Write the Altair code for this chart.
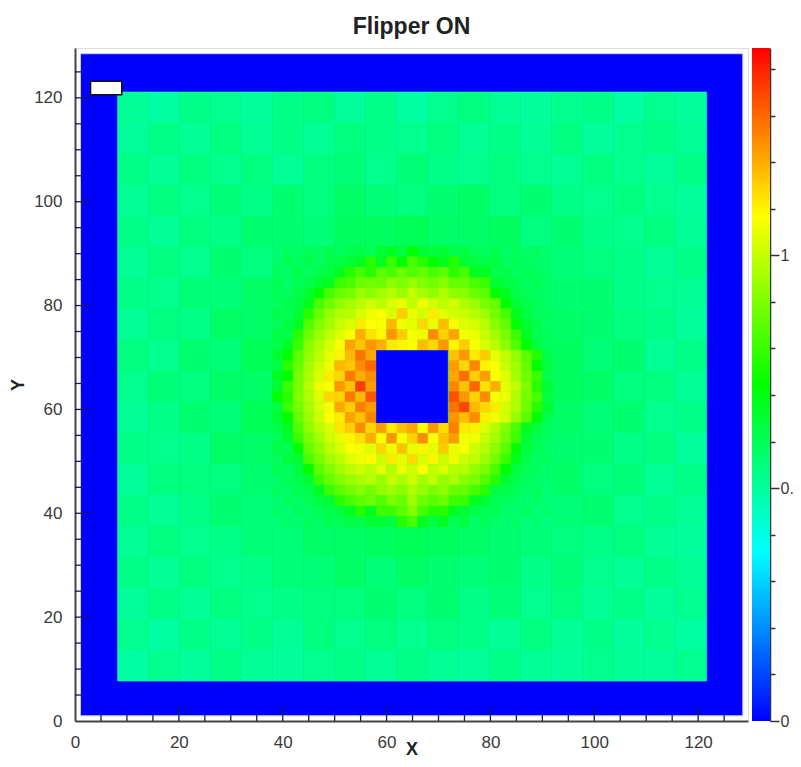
import altair as alt
import pandas as pd

# Colour scale
color_domain = [0, 0.36, 0.72, 1.08, 1.445]
color_range = ["#0000ff", "#00ffff", "#00ff00", "#ffff00", "#ff0000"]

# Coarse background tiles (hundredths), top row first, about 6 units wide
bg_x0, bg_y0, bg_step = 8.2, 7.7, 5.97
bg_rows = [
    [59, 57, 61, 60, 58, 61, 62, 58, 61, 57, 60, 62, 59, 58, 60, 61, 57, 60, 58],
    [58, 61, 59, 62, 59, 61, 59, 62, 61, 60, 62, 59, 61, 59, 62, 58, 60, 61, 59],
    [61, 59, 62, 60, 62, 59, 62, 63, 60, 63, 61, 60, 62, 60, 59, 62, 60, 58, 61],
    [59, 62, 60, 63, 61, 64, 62, 65, 63, 62, 64, 65, 62, 64, 61, 60, 62, 60, 58],
    [61, 59, 62, 61, 64, 64, 63, 66, 66, 67, 65, 65, 66, 62, 64, 61, 60, 62, 59],
    [59, 62, 60, 64, 62, 65, 66, 67, 68, 69, 68, 67, 66, 65, 63, 62, 61, 59, 61],
    [61, 60, 63, 63, 65, 65, 67, 68, 68, 68, 68, 68, 67, 66, 64, 64, 61, 60, 59],
    [59, 62, 61, 65, 65, 67, 68, 68, 68, 68, 68, 68, 68, 67, 65, 64, 62, 61, 58],
    [62, 60, 64, 63, 67, 67, 68, 68, 68, 68, 68, 68, 68, 67, 66, 63, 64, 59, 61],
    [60, 63, 62, 65, 65, 68, 68, 68, 68, 68, 68, 68, 68, 68, 66, 65, 62, 62, 59],
    [59, 61, 64, 63, 67, 67, 68, 68, 68, 68, 68, 68, 68, 67, 65, 63, 64, 60, 61],
    [61, 60, 61, 65, 65, 66, 68, 68, 68, 68, 68, 68, 68, 66, 64, 64, 61, 62, 58],
    [58, 62, 62, 62, 64, 66, 67, 68, 68, 68, 68, 68, 67, 65, 65, 62, 63, 59, 61],
    [61, 59, 61, 64, 63, 65, 66, 67, 68, 69, 68, 67, 66, 65, 63, 64, 60, 61, 59],
    [59, 62, 60, 61, 63, 63, 65, 65, 66, 67, 66, 65, 64, 63, 62, 61, 62, 59, 58],
    [61, 59, 62, 60, 61, 63, 63, 65, 63, 65, 64, 63, 64, 61, 63, 60, 59, 61, 59],
    [58, 61, 59, 62, 60, 61, 62, 62, 64, 62, 64, 61, 63, 60, 62, 59, 61, 58, 60],
    [60, 57, 61, 59, 61, 59, 62, 60, 62, 60, 62, 61, 59, 62, 59, 61, 58, 60, 57],
    [57, 60, 58, 61, 59, 58, 60, 61, 59, 61, 59, 58, 61, 59, 58, 60, 59, 58, 60],
]

# Halo around the beam stop (hundredths), top row first, 2 units wide
halo_x0, halo_y0, halo_step = 38, 37.4, 2
H = [0] * 7
halo_rows = [
    [64, 66, 65, 67, 66, 68, 66, 68, 69, 67, 70, 71, 69, 72, 70, 69, 70, 68, 69, 67, 66, 68, 65, 67, 65, 66, 64],
    [65, 67, 66, 68, 66, 68, 69, 70, 71, 73, 71, 74, 72, 75, 73, 72, 71, 73, 70, 69, 68, 69, 66, 67, 66, 65, 64],
    [66, 65, 68, 66, 68, 69, 71, 73, 75, 73, 77, 75, 79, 76, 78, 75, 77, 73, 75, 71, 71, 68, 68, 66, 67, 66, 65],
    [67, 65, 67, 68, 70, 71, 74, 75, 79, 80, 79, 84, 81, 85, 82, 80, 83, 78, 78, 75, 74, 70, 69, 68, 66, 67, 65],
    [67, 66, 68, 70, 72, 75, 78, 80, 86, 83, 88, 91, 86, 94, 88, 85, 90, 84, 83, 79, 77, 72, 71, 68, 67, 66, 65],
    [66, 68, 69, 71, 75, 79, 84, 88, 92, 96, 92, 99, 103, 94, 104, 97, 93, 97, 90, 86, 81, 78, 72, 70, 68, 67, 65],
    [68, 67, 70, 73, 78, 85, 90, 92, 99, 104, 108, 99, 118, 103, 98, 112, 101, 98, 96, 91, 87, 80, 75, 71, 69, 66, 66],
    [67, 69, 71, 76, 82, 88, 95, 99, 112, 108, 106, 122, 104, 101, 116, 103, 121, 109, 100, 98, 92, 83, 78, 72, 70, 68, 65],
    [69, 68, 73, 79, 86, 93, 100, 108, 124, 114, 109, 128, 118, 106, 104, 130, 117, 126, 106, 104, 95, 88, 81, 74, 71, 67, 66],
    [68, 71, 74, 83, 90, 98, 107, 126, 119, 128, 124, 112, 110, 107, 121, 116, 128, 110, 118, 106, 99, 92, 83, 76, 72, 69, 66],
    [70, 72, 77, 85, 93, 102, 110, 122, 134, 125] + H + [120, 128, 112, 118, 102, 94, 85, 77, 73, 68],
    [69, 73, 78, 87, 96, 104, 122, 119, 130, 136] + H + [127, 116, 131, 110, 107, 95, 87, 78, 72, 69],
    [71, 72, 80, 89, 99, 112, 116, 133, 124, 130] + H + [125, 135, 118, 127, 108, 100, 88, 79, 74, 68],
    [70, 74, 81, 91, 104, 108, 128, 120, 141, 127] + H + [131, 120, 136, 114, 124, 102, 93, 81, 73, 70],
    [72, 73, 82, 90, 100, 116, 117, 133, 122, 138] + H + [139, 128, 117, 130, 106, 103, 90, 80, 75, 69],
    [69, 74, 80, 88, 98, 106, 125, 118, 132, 127] + H + [134, 140, 122, 116, 112, 98, 90, 79, 73, 70],
    [70, 72, 78, 86, 96, 107, 112, 126, 120, 131] + H + [128, 121, 130, 111, 105, 98, 85, 77, 72, 68],
    [68, 71, 76, 84, 92, 99, 113, 118, 130, 116, 127, 112, 120, 125, 108, 128, 115, 132, 112, 111, 99, 91, 82, 75, 71, 69, 66],
    [67, 70, 74, 81, 88, 97, 102, 110, 114, 124, 108, 128, 106, 117, 130, 108, 120, 127, 106, 105, 95, 88, 80, 74, 70, 67, 66],
    [68, 67, 72, 78, 84, 92, 98, 108, 106, 101, 116, 104, 120, 102, 110, 101, 118, 103, 107, 96, 91, 83, 77, 72, 69, 67, 65],
    [66, 69, 70, 75, 81, 87, 92, 100, 104, 109, 97, 112, 101, 115, 99, 110, 96, 104, 96, 93, 86, 80, 74, 71, 68, 66, 66],
    [67, 66, 69, 72, 77, 82, 87, 93, 97, 93, 101, 91, 103, 96, 108, 93, 99, 91, 91, 85, 81, 75, 72, 69, 67, 66, 64],
    [65, 67, 68, 70, 74, 78, 82, 86, 89, 92, 86, 94, 89, 96, 88, 93, 85, 89, 83, 81, 76, 73, 70, 68, 66, 65, 64],
    [66, 65, 67, 68, 71, 74, 77, 80, 83, 80, 85, 87, 83, 90, 85, 81, 84, 79, 78, 75, 73, 69, 68, 67, 65, 66, 63],
    [64, 66, 65, 67, 69, 70, 73, 75, 77, 79, 76, 81, 78, 86, 79, 77, 79, 74, 74, 71, 70, 67, 66, 65, 64, 65, 63],
    [65, 63, 66, 65, 67, 68, 69, 71, 73, 71, 74, 74, 77, 82, 75, 73, 73, 71, 70, 68, 67, 67, 65, 64, 66, 63, 64],
    [63, 65, 64, 66, 65, 67, 67, 69, 68, 70, 70, 69, 73, 75, 71, 69, 71, 67, 69, 65, 67, 65, 64, 65, 63, 64, 62],
]

# Blue detector frame and beam stop: x, x2, y, y2
frame_box = [1.06, 128.6, 1.0, 128.5]
stop_box = [58.0, 71.8, 57.4, 71.4]
legend_box = [3.0, 9.0, 120.6, 123.2]
axis_max = 129.6

major_ticks = [0, 20, 40, 60, 80, 100, 120]
minor_ticks = [5, 10, 15, 25, 30, 35, 45, 50, 55, 65, 70, 75, 85, 90, 95, 105, 110, 115, 125]
cbar_max = 1.445
cbar_ticks = [0, 0.1, 0.2, 0.3, 0.4, 0.5, 0.6, 0.7, 0.8, 0.9, 1, 1.1, 1.2, 1.3, 1.4]
cbar_offsets = [0, 0.25, 0.5, 0.75, 1]

FONT = "Liberation Sans"
TXT = "#3a3a3a"


def cells(rows, x0, y0, step):
    out = []
    n = len(rows)
    for i, row in enumerate(rows):
        for j, v in enumerate(row):
            if v > 0:
                y = y0 + (n - 1 - i) * step
                out.append({"x": x0 + j * step, "x2": x0 + (j + 1) * step,
                            "y": y, "y2": y + step, "v": v / 100})
    return pd.DataFrame(out)


def box(b, v=0.0):
    return pd.DataFrame([{"x": b[0], "x2": b[1], "y": b[2], "y2": b[3], "v": v}])


xs = alt.Scale(domain=[0, axis_max], nice=False, zero=False)
ys = alt.Scale(domain=[0, axis_max], nice=False, zero=False)
cs = alt.Scale(domain=color_domain, range=color_range, clamp=True)

x_axis = alt.Axis(title="X", values=major_ticks, tickSize=0, domainColor="#444444", domainWidth=2,
                  grid=False, labelFont=FONT, labelFontSize=17, labelColor=TXT, labelPadding=13,
                  titleFont=FONT, titleFontSize=18, titleFontWeight="bold", titleColor="#222222",
                  titlePadding=-10, labelFlush=False, format="d")
y_axis = alt.Axis(title="Y", values=major_ticks, tickSize=0, domainColor="#444444", domainWidth=2,
                  grid=False, labelFont=FONT, labelFontSize=17, labelColor=TXT, labelPadding=13,
                  titleFont=FONT, titleFontSize=18, titleFontWeight="bold", titleColor="#222222",
                  titlePadding=6, format="d")


def rects(df, **kw):
    return alt.Chart(df).mark_rect(**kw).encode(
        x=alt.X("x:Q", scale=xs, axis=x_axis),
        x2="x2:Q",
        y=alt.Y("y:Q", scale=ys, axis=y_axis),
        y2="y2:Q",
        color=alt.Color("v:Q", scale=cs, legend=None),
        stroke=alt.Stroke("v:Q", scale=cs, legend=None),
    )


frame = rects(box(frame_box), strokeWidth=0).encode(stroke=alt.value("#c8c8ff"), strokeWidth=alt.value(1))
bg = rects(cells(bg_rows, bg_x0, bg_y0, bg_step), strokeWidth=0.6)
halo = rects(cells(halo_rows, halo_x0, halo_y0, halo_step), strokeWidth=0.4)
stop = rects(box(stop_box), strokeWidth=0)
legend = alt.Chart(box(legend_box)).mark_rect(fill="white", stroke="#111111", strokeWidth=1.5).encode(
    x=alt.X("x:Q", scale=xs), x2="x2:Q", y=alt.Y("y:Q", scale=ys), y2="y2:Q")


def ticks(vals, length, color="#1a1a4a"):
    dfx = pd.DataFrame({"t": vals, "a": [0.0] * len(vals), "b": [length] * len(vals)})
    tx = alt.Chart(dfx).mark_rule(color=color, strokeWidth=1.3).encode(
        x=alt.X("t:Q", scale=xs), y=alt.Y("a:Q", scale=ys), y2="b:Q")
    ty = alt.Chart(dfx).mark_rule(color=color, strokeWidth=1.3).encode(
        y=alt.Y("t:Q", scale=ys), x=alt.X("a:Q", scale=xs), x2="b:Q")
    return tx + ty


heat = alt.layer(frame, bg, halo, stop, legend, ticks(major_ticks[1:], 2.6), ticks(minor_ticks, 1.3))

gradient = alt.Gradient(
    gradient="linear", x1=0, y1=1, x2=0, y2=0,
    stops=[alt.GradientStop(offset=o, color=c) for o, c in zip(cbar_offsets, color_range)],
)
cbar = alt.Chart(pd.DataFrame([{"lo": 0.0, "hi": cbar_max}])).mark_rect(color=gradient, clip=False).encode(
    x=alt.value(677), x2=alt.value(695),
    y=alt.Y("lo:Q", scale=alt.Scale(domain=[0, cbar_max], nice=False, zero=False),
            axis=alt.Axis(orient="right", offset=22, title=None, values=cbar_ticks, grid=False,
                          domainColor="#333333", domainWidth=1.5, tickColor="#333333", tickWidth=1.5,
                          tickSize={"condition": {"test": "datum.value==0 || datum.value==0.5 || datum.value==1",
                                                  "value": 9}, "value": 5},
                          labelExpr="datum.value==0 ? '0' : datum.value==0.5 ? '0.5' : datum.value==1 ? '1' : ''",
                          labelFont=FONT, labelFontSize=16, labelColor=TXT, labelPadding=1, labelOverlap=False)),
    y2="hi:Q",
)

chart = alt.layer(heat, cbar).resolve_scale(y="independent").properties(
    width=673, height=673,
    title=alt.TitleParams("Flipper ON", font=FONT, fontSize=23, fontWeight="bold", color="#222222",
                          anchor="middle", offset=9),
    autosize=alt.AutoSizeParams(type="none", contains="content"),
    padding={"left": 67, "top": 40, "right": 45, "bottom": 38},
).configure_view(stroke="#444444", strokeWidth=2).configure(background="white")

chart.save("out.html", embed_options={"renderer": "svg", "actions": False})
